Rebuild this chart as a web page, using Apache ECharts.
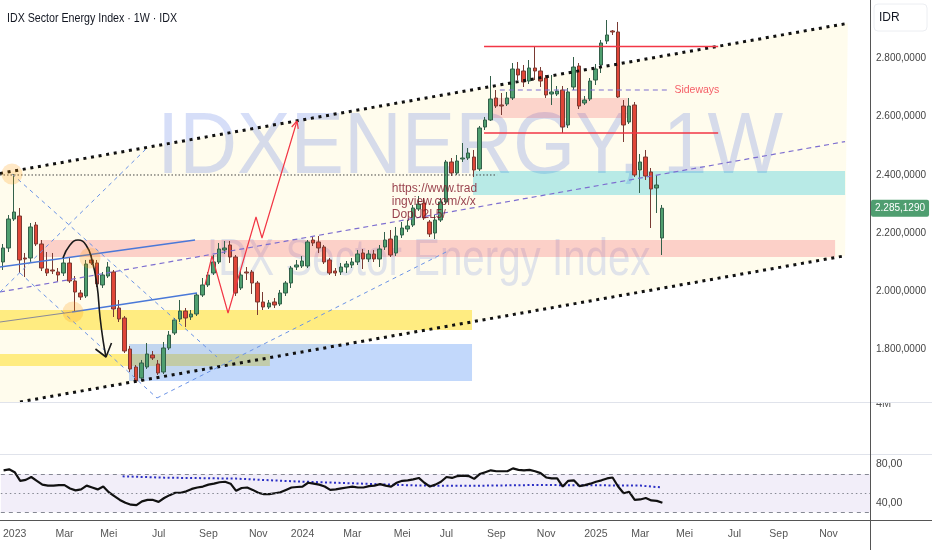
<!DOCTYPE html>
<html><head><meta charset="utf-8">
<script src="https://cdn.jsdelivr.net/npm/echarts@6/dist/echarts.min.js"></script>
<style>html,body{margin:0;padding:0;background:#fff}#c{width:932px;height:550px}</style>
</head><body><div id="c"></div>
<script>
// ---------- calendar (weekly bars, one holiday week without a bar) ----------
const startWeek = '2022-12-19';
const skippedWeeks = ['2025-03-31'];
const weekCount = 157;
const monthNames = ['Jan','Feb','Mar','Apr','Mei','Jun','Jul','Agu','Sep','Okt','Nov','Des'];

// ---------- price data: [open, close, low, high] ----------
const candles = [
[2100.6,2148.7,2073.1,2162.4],[2148.7,2248.2,2134.9,2261.9],[2248.2,2272.2,2241.4,2402.7],[2258.5,2107.5,2062.8,2286.0],
[2114.3,2110.9,2049.1,2131.5],[2114.3,2220.8,2100.6,2234.5],[2227.6,2162.4,2155.5,2237.9],[2162.4,2080.0,2069.7,2176.1],
[2076.6,2062.8,2052.5,2134.9],[2073.1,2069.7,2059.4,2131.5],[2066.3,2056.0,2031.9,2080.0],[2062.8,2097.2,2052.5,2114.3],
[2097.2,2035.4,2028.5,2114.3],[2035.4,1997.6,1929.0,2052.5],[1994.2,1980.5,1970.2,2004.5],[1983.9,2093.7,1977.0,2107.5],
[2107.5,2097.2,2090.3,2124.6],[2097.2,2025.1,2014.8,2107.5],[2021.7,2056.0,2011.4,2066.3],[2052.5,2083.4,2045.7,2100.6],
[2066.3,1939.3,1911.8,2073.1],[1942.7,1904.9,1894.6,1970.2],[1908.4,1795.1,1788.2,1915.2],[1801.9,1733.3,1723.0,1812.3],
[1740.2,1692.1,1685.2,1747.0],[1702.4,1753.9,1692.1,1764.2],[1740.2,1784.8,1733.3,1822.5],[1781.4,1771.1,1764.2,1795.1],
[1750.5,1719.6,1712.7,1764.2],[1723.0,1805.4,1716.1,1826.0],[1805.4,1850.0,1798.5,1863.7],[1856.9,1901.5,1850.0,1908.4],
[1904.9,1932.4,1894.6,1970.2],[1932.4,1908.4,1877.5,1942.7],[1911.8,1922.1,1901.5,1935.8],[1922.1,1987.3,1915.2,1994.2],
[1987.3,2021.7,1980.5,2045.7],[2021.7,2056.0,2014.8,2066.3],[2062.8,2100.6,2056.0,2124.6],[2100.6,2145.2,2093.7,2165.8],
[2141.8,2148.7,2128.1,2172.7],[2159.0,2117.8,2097.2,2172.7],[2117.8,1994.2,1983.9,2124.6],[2011.4,2056.0,2004.5,2073.1],
[2066.3,2062.8,2038.8,2083.4],[2066.3,2028.5,1990.8,2073.1],[2028.5,1963.3,1918.7,2035.4],[1963.3,1946.1,1935.8,1997.6],
[1946.1,1959.9,1939.3,1970.2],[1963.3,1953.0,1942.7,1977.0],[1956.4,1994.2,1949.6,2004.5],[1994.2,2028.5,1983.9,2035.4],
[2028.5,2080.0,2011.4,2086.9],[2083.4,2090.3,2073.1,2107.5],[2086.9,2104.0,2080.0,2121.2],[2086.9,2169.3,2080.0,2176.1],
[2176.1,2165.8,2155.5,2186.4],[2169.3,2148.7,2131.5,2189.9],[2152.1,2100.6,2093.7,2159.0],[2107.5,2062.8,2056.0,2114.3],
[2069.7,2062.8,2052.5,2080.0],[2066.3,2083.4,2056.0,2097.2],[2083.4,2093.7,2062.8,2104.0],[2090.3,2100.6,2080.0,2114.3],
[2100.6,2128.1,2090.3,2141.8],[2131.5,2110.9,2076.6,2145.2],[2110.9,2128.1,2100.6,2141.8],[2128.1,2110.9,2100.6,2141.8],
[2110.9,2145.2,2083.4,2159.0],[2152.1,2176.1,2141.8,2203.6],[2179.6,2124.6,2117.8,2210.5],[2131.5,2189.9,2121.2,2220.8],
[2193.3,2217.3,2183.0,2237.9],[2213.9,2224.2,2203.6,2244.8],[2227.6,2286.0,2220.8,2296.3],[2282.5,2299.7,2275.7,2327.2],
[2303.1,2251.6,2244.8,2320.3],[2237.9,2196.7,2186.4,2244.8],[2200.2,2244.8,2179.6,2261.9],[2244.8,2306.6,2237.9,2320.3],
[2306.6,2443.9,2299.7,2450.8],[2443.9,2406.1,2395.8,2457.6],[2406.1,2447.3,2399.3,2467.9],[2454.2,2457.6,2443.9,2509.1],
[2457.6,2474.8,2450.8,2491.9],[2461.0,2416.4,2392.4,2485.1],[2419.9,2560.6,2413.0,2567.5],[2564.0,2588.1,2553.7,2598.4],
[2588.1,2660.2,2584.6,2739.1],[2663.6,2636.1,2629.3,2691.0],[2639.6,2636.1,2605.2,2680.7],[2643.0,2663.6,2636.1,2684.2],
[2663.6,2763.1,2656.7,2783.7],[2763.1,2742.5,2725.4,2787.2],[2756.3,2718.5,2701.3,2776.9],[2721.9,2766.6,2711.6,2794.0],
[2766.6,2756.3,2725.4,2838.7],[2756.3,2721.9,2701.3,2770.0],[2732.2,2673.9,2663.6,2742.5],[2677.3,2684.2,2639.6,2742.5],
[2677.3,2687.6,2670.5,2704.8],[2691.0,2564.0,2543.4,2704.8],[2570.9,2684.2,2560.6,2697.9],[2701.3,2770.0,2691.0,2804.3],
[2773.4,2636.1,2625.8,2783.7],[2646.4,2656.7,2639.6,2670.5],[2660.2,2721.9,2653.3,2732.2],[2725.4,2763.1,2708.2,2780.3],
[2776.9,2852.4,2749.4,2862.7],[2859.3,2879.9,2849.0,2931.3],[2893.6,2890.2,2879.9,2897.0],[2890.2,2667.0,2663.6,2924.5],
[2636.1,2570.9,2512.5,2656.7],[2581.2,2636.1,2574.3,2663.6],[2639.6,2399.3,2392.4,2649.9],[2416.4,2443.9,2337.5,2471.3],
[2461.0,2395.8,2382.1,2485.1],[2409.6,2351.2,2217.3,2423.3],[2354.6,2364.9,2268.8,2399.3],[2183.0,2285.129,2124.6,2296.3]
];

// ---------- RSI pane ----------
const rsiValues = [74,75,72,63,64,67,63,59,58,58, 58.5,58.5,55,53,54,58,56,54,57,51,
  47,43,40,38,37.5,41.5,43,43,41,45, 48,50.5,50.5,52,54.5,56,57,59,60,61.5,
  62,60,52.5,55.5,56,53.5,50.5,49,49,50, 51,53.5,56,56.5,57,61,60,59,57,53.5,
  54,55,56,57,56,56,57.5,58,59.5,58, 57,61,63,63.5,64.5,66,61,57,59,62,
  67,66,68,68.5,68,65,70,72,74,73, 73,73,76,74.5,74,74.5,73,71,66.5,65.5,
  65.5,57,63,63.5,57.5,58.5,60,62,63.5,65.5, 66.5,57,50,51.5,43,43.5,45,42.5,42,40];
const rsiMaPoints = [[21.5,67.7],[29,66.3],[42,65.3],[48,63.6],[53,62.3],[60,61],[69,59.2],[75,58],[85,57.8],[96,58.6],[107,58.3],[115,58],[119,56]];
const rsiLevels = [70, 50, 30];
const rsiTicks = [40, 80];
const priceTicks = [1800, 2000, 2200, 2400, 2600, 2800];

// ---------- drawings: [week index, price] ----------
const channelUpper = [[-0.5,2404.7],[152.5,2920.0]];
const channelLower = [[3.11,1620.4],[152.0,2121.9]];
const channelFill  = [[-0.5,2404.7],[152.5,2920.0],[152.0,2121.9],[3.11,1620.4],[-0.5,1608.2]];
const channelMid   = [[-0.5,1997.6],[152.0,2513.9]];
const peakDotted   = [[-0.5,2399.3],[89.2,2399.3]];
const blueDashA = [[-0.5,1997.6],[26.03,2491.9]];
const blueDashB = [[1.67,2402.7],[38.66,1774.5]];
const blueDashC = [[3.11,2062.8],[27.83,1633.7]];
const blueDashD = [[27.83,1633.7],[80.71,2141.8]];
const blueSolidE = [[-0.5,2083.4],[34.7,2176.1]];
const blueSolidF = [[12.5,1929.0],[35.05,1994.2]];
const grayLineG  = [[-0.5,1894.6],[12.5,1929.0]];
const curveArrow = [[10.87,2114.3],[12.13,2159.0],[13.58,2176.1],[15.02,2159.0],[16.1,2107.5],[17.0,2021.7],[17.55,1911.8],[18.09,1832.8],[18.63,1774.5]];
const curveArrowHead = [[16.73,1801.9],[18.63,1774.5],[19.62,1822.5]];
const redZigzag = [[36.5,2021.7],[37.76,2121.2],[40.65,1925.5],[45.7,2255.1],[46.78,2183.0],[53.1,2584.6]];
const redArrowHead = [[52.14,2564.0],[53.1,2584.6],[53.32,2557.5]];
const redLineTop = [[86.85,2840.4],[129.1,2840.4]];
const redLineMid = [[86.85,2543.4],[129.1,2543.4]];
const sidewaysLine = [[89.7,2691.0],[120.1,2691.0]];
const sidewaysLabel = [121.2,2691.0];
const noteLabel = [70.2,2306.6];
const noteText = 'https://www.trad\ningview.com/x/x\nDopU2L5/';
const circles = [[1.67,2402.7],[15.74,2114.3],[12.67,1929.0]];
const zones = [
  {a:[6.72,2176.1], b:[150.2,2117.8], color:'rgba(242,54,69,0.22)'},
  {a:[-0.5,1935.8], b:[84.68,1867.2], color:'rgba(255,222,40,0.55)'},
  {a:[-0.5,1784.8], b:[48.2,1743.6],  color:'rgba(255,222,40,0.55)'},
  {a:[22.78,1819.1], b:[84.68,1692.1], color:'rgba(66,133,244,0.32)'},
  {a:[84.86,2413.0], b:[152.0,2330.6], color:'rgba(0,188,212,0.28)'},
  {a:[88.5,2663.6], b:[112.8,2594.9],  color:'rgba(242,54,69,0.20)'}
];

// ---------- helpers ----------
function buildWeeks(){
  const out=[]; let t=Date.parse(startWeek+'T00:00:00Z');
  while(out.length<weekCount){ const s=new Date(t).toISOString().slice(0,10); if(!skippedWeeks.includes(s)) out.push(s); t+=7*864e5; }
  return out;
}
function idNum(v,dec){
  const s=v.toFixed(dec); const parts=s.split('.');
  const i=parts[0].replace(/\B(?=(\d{3})+(?!\d))/g,'.');
  return parts[1]!==undefined ? i+','+parts[1] : i;
}
const weeks = buildWeeks();
const FONT = "'Liberation Sans',sans-serif";

function ln(data,color,width,type,extra){
  return Object.assign({type:'line',xAxisIndex:1,yAxisIndex:0,data:data,symbol:'none',silent:true,z:4,
    clip:true,lineStyle:{color:color,width:width,type:type,cap:'butt'}},extra||{});
}

const chart = echarts.init(document.getElementById('c'), null, {renderer:'canvas'});
const lastClose = candles[candles.length-1][1];

const option = {
  animation:false,
  backgroundColor:'#ffffff',
  grid:[
    {left:0,right:62,top:0,height:402},
    {left:0,right:62,top:455,height:65}
  ],
  xAxis:[
    {type:'category',gridIndex:0,data:weeks,show:false,boundaryGap:true},
    {type:'value',gridIndex:0,min:-0.5,max:weekCount-0.5,show:false},
    {type:'category',gridIndex:1,data:weeks,boundaryGap:true,
      axisLine:{show:false},axisTick:{show:false},splitLine:{show:false},
      axisLabel:{color:'#555',fontSize:10.5,fontFamily:FONT,margin:9,
        interval:function(i,v){const d=new Date(v+'T00:00:00Z');return d.getUTCDate()<=7 && d.getUTCMonth()%2===0;},
        formatter:function(v){const d=new Date(v+'T00:00:00Z');return d.getUTCMonth()===0?String(d.getUTCFullYear()):monthNames[d.getUTCMonth()];}}},
    {type:'value',gridIndex:1,min:-0.5,max:weekCount-0.5,show:false}
  ],
  yAxis:[
    {type:'value',gridIndex:0,position:'right',min:1620,max:3000,
      axisLine:{show:false},axisTick:{show:false},splitLine:{show:false},
      axisLabel:{customValues:priceTicks,color:'#444',fontSize:10,fontFamily:FONT,margin:6,formatter:function(v){return idNum(v,4);}}},
    {type:'value',gridIndex:1,position:'right',min:22,max:90,
      axisLine:{show:false},axisTick:{show:false},splitLine:{show:false},
      axisLabel:{customValues:rsiTicks,color:'#444',fontSize:10.5,fontFamily:FONT,margin:6,formatter:function(v){return idNum(v,2);}}}
  ],
  graphic:[
    {type:'text',x:157,y:148.5,scaleX:0.91,z:1,silent:true,style:{text:'IDXENERGY, 1W',font:'88px "Liberation Sans", sans-serif',fill:'rgba(60,100,220,0.21)',verticalAlign:'middle',align:'left'}},
    {type:'text',x:207,y:260.5,scaleX:0.775,z:1,silent:true,style:{text:'IDX Sector Energy Index',font:'52px "Liberation Sans", sans-serif',fill:'rgba(60,100,220,0.16)',verticalAlign:'middle',align:'left'}},
    {type:'text',x:7,y:18.5,scaleX:0.82,z:100,silent:true,style:{text:'IDX Sector Energy Index · 1W · IDX',font:"13px "+FONT,fill:'#131722',verticalAlign:'middle',align:'left'}},
    {type:'text',x:876,y:404,z:100,silent:true,style:{text:'4M',font:"11px "+FONT,fill:'#555',verticalAlign:'middle',align:'left'}},
    {type:'rect',z:101,silent:true,shape:{x:871,y:394,width:61,height:8.5},style:{fill:'#fff'}},
    {type:'line',z:102,silent:true,shape:{x1:0,y1:402.5,x2:932,y2:402.5},style:{stroke:'#e0e3eb',lineWidth:1}},
    {type:'line',z:102,silent:true,shape:{x1:0,y1:454.5,x2:932,y2:454.5},style:{stroke:'#e0e3eb',lineWidth:1}},
    {type:'line',z:102,silent:true,shape:{x1:0,y1:520.5,x2:932,y2:520.5},style:{stroke:'#555',lineWidth:1}},
    {type:'line',z:102,silent:true,shape:{x1:870.5,y1:0,x2:870.5,y2:550},style:{stroke:'#555',lineWidth:1}},
    {type:'rect',z:102,silent:true,shape:{x:874,y:4,width:53,height:27,r:4},style:{fill:'#fff',stroke:'#eceef2',lineWidth:1}},
    {type:'text',x:879,y:17.5,z:103,silent:true,style:{text:'IDR',font:"12px "+FONT,fill:'#131722',verticalAlign:'middle',align:'left'}}
  ],
  series:[
    {type:'custom',xAxisIndex:1,yAxisIndex:0,z:0,silent:true,clip:true,data:[[0,2000]],
      renderItem:function(params,api){
        return {type:'polygon',shape:{points:channelFill.map(function(p){return api.coord(p);})},style:{fill:'rgba(255,236,150,0.17)'}};
      }},
    {type:'line',xAxisIndex:1,yAxisIndex:0,data:[],z:1,silent:true,symbol:'none',
      markArea:{silent:true,data:zones.map(function(zn){return [{coord:zn.a,itemStyle:{color:zn.color}},{coord:zn.b}];})}},
    {type:'candlestick',xAxisIndex:0,yAxisIndex:0,data:candles,z:3,barWidth:'72%',
      itemStyle:{color:'#4f9f6f',color0:'#e04638',borderColor:'#33604a',borderColor0:'#7a3a33',borderWidth:1}},
    {type:'line',xAxisIndex:1,yAxisIndex:0,data:[],z:20,silent:true,symbol:'none',
      markLine:{silent:true,symbol:'none',data:[[{coord:[candles.length-1,lastClose]},{coord:[weekCount-0.5,lastClose]}]],
        lineStyle:{color:'rgba(0,0,0,0)',width:1},
        label:{show:true,position:'end',distance:1,formatter:function(){return idNum(lastClose,4);},
          backgroundColor:'#4f9e70',color:'#fff',fontSize:10,fontFamily:FONT,padding:[4,4,3,4],borderRadius:2}}},
    ln(channelUpper,'#111',3,[3,4.7]),
    ln(channelLower,'#111',3,[3,4.7]),
    ln(channelMid,'#7e6fd0',1.2,[5,4]),
    ln(peakDotted,'#444',1,[1.5,2]),
    ln(blueDashA,'#6b93e6',1,[4,4]),
    ln(blueDashB,'#6b93e6',1,[4,4]),
    ln(blueDashC,'#6b93e6',1,[4,4]),
    ln(blueDashD,'#6b93e6',1,[4,4]),
    ln(blueSolidE,'#4a78d8',1.3,'solid'),
    ln(blueSolidF,'#4a78d8',1.3,'solid'),
    ln(grayLineG,'#8a8a98',1.2,'solid'),
    ln(curveArrow,'#1a1a1a',1.6,'solid',{smooth:0.5}),
    ln(curveArrowHead,'#1a1a1a',1.6,'solid'),
    ln(redZigzag,'#f23645',1.2,'solid'),
    ln(redArrowHead,'#f23645',1.2,'solid'),
    ln(redLineTop,'#f23645',1.5,'solid'),
    ln(redLineMid,'#f23645',1.5,'solid'),
    ln(sidewaysLine,'#7e6fd0',1.2,[5,4]),
    {type:'scatter',xAxisIndex:1,yAxisIndex:0,data:circles,symbolSize:21,z:5,silent:true,itemStyle:{color:'rgba(255,152,0,0.28)'}},
    {type:'scatter',xAxisIndex:1,yAxisIndex:0,data:[sidewaysLabel],symbolSize:0,z:6,silent:true,
      label:{show:true,position:'right',distance:0,formatter:'Sideways',color:'#f23645',fontSize:10.5,fontFamily:FONT}},
    {type:'scatter',xAxisIndex:1,yAxisIndex:0,data:[noteLabel],symbolSize:0,z:6,silent:true,
      label:{show:true,position:'right',distance:0,formatter:noteText,color:'#7d0f22',fontSize:12,lineHeight:13,fontFamily:FONT,align:'left'}},
    {type:'line',xAxisIndex:2,yAxisIndex:1,data:rsiValues,symbol:'none',z:4,silent:true,
      lineStyle:{color:'#111',width:2.2},
      markArea:{silent:true,data:[[{yAxis:30,itemStyle:{color:'rgba(126,87,194,0.1)'}},{yAxis:70}]]},
      markLine:{silent:true,symbol:'none',label:{show:false},
        data:rsiLevels.map(function(v){return {yAxis:v,lineStyle:{color:'#858893',width:1,type:v===50?[1.5,3]:[4,4]}};})}},
    {type:'line',xAxisIndex:3,yAxisIndex:1,data:rsiMaPoints,symbol:'none',z:3,silent:true,
      lineStyle:{color:'#2b2fc4',width:2,type:[2,2.5]}}
  ]
};
chart.setOption(option);
</script></body></html>
